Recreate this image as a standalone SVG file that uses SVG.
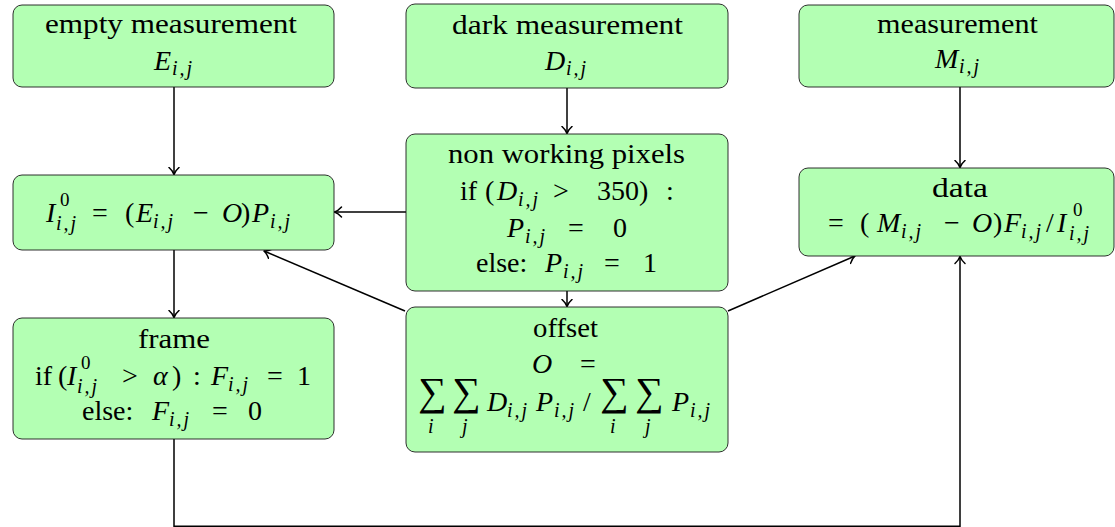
<svg xmlns="http://www.w3.org/2000/svg" width="1115" height="527" viewBox="0 0 1115 527">
<style>
.box{fill:#b3ffb3;stroke:#1a1a1a;stroke-width:0.9}
.t{font-family:"Liberation Serif","Times New Roman",serif;font-size:28px;fill:#000}
.i{font-style:italic}
.s{font-style:italic;font-size:20px;letter-spacing:2px}
.sup{font-size:19px}
.sum{font-size:40px}
.c{fill:none;stroke:#000;stroke-width:1.5}
</style>
<defs>
<marker id="ah" markerUnits="userSpaceOnUse" markerWidth="16" markerHeight="16" refX="0" refY="0" viewBox="-8 -8 16 16" orient="auto">
<path d="M-7,-5 C-4.5,-2.2 -1.5,-0.5 0,0 C-1.5,0.5 -4.5,2.2 -7,5" fill="none" stroke="#000" stroke-width="1.5" stroke-linecap="round" stroke-linejoin="round"/>
</marker>
</defs>
<g id="connectors">
<path class="c" d="M174,87 L174,174.5" marker-end="url(#ah)"/>
<path class="c" d="M567,88 L567,133.5" marker-end="url(#ah)"/>
<path class="c" d="M960,87 L960,167.5" marker-end="url(#ah)"/>
<path class="c" d="M406,212 L334.5,212" marker-end="url(#ah)"/>
<path class="c" d="M567,291 L567,306.5" marker-end="url(#ah)"/>
<path class="c" d="M405,311 L264,251" marker-end="url(#ah)"/>
<path class="c" d="M728,311 L855,256" marker-end="url(#ah)"/>
<path class="c" d="M174,250 L174,317.5" marker-end="url(#ah)"/>
<path class="c" d="M174,439 L174,526.3 L960,526.3 L960,256.5" marker-end="url(#ah)"/>
</g>
<g id="empty">
<rect class="box" x="13" y="5" width="321" height="82" rx="9"/>
<text class="t" x="45" y="33" textLength="252" lengthAdjust="spacingAndGlyphs">empty measurement</text>
<text class="t" y="70"><tspan class="i" x="154">E</tspan><tspan class="s" x="172" y="75">i,j</tspan></text>
</g>
<g id="dark">
<rect class="box" x="406" y="4" width="322" height="84" rx="9"/>
<text class="t" x="452" y="34" textLength="231" lengthAdjust="spacingAndGlyphs">dark measurement</text>
<text class="t" y="70"><tspan class="i" x="545">D</tspan><tspan class="s" x="566" y="75">i,j</tspan></text>
</g>
<g id="measurement">
<rect class="box" x="799" y="5" width="315" height="82" rx="9"/>
<text class="t" x="877" y="33" textLength="161" lengthAdjust="spacingAndGlyphs">measurement</text>
<text class="t" y="68"><tspan class="i" x="935">M</tspan><tspan class="s" x="959" y="73">i,j</tspan></text>
</g>
<g id="intensity">
<rect class="box" x="13" y="175" width="321" height="75" rx="9"/>
<text class="t" y="222"><tspan class="i" x="46">I</tspan><tspan class="sup" x="60" y="206">0</tspan><tspan class="s" x="56" y="230">i,j</tspan><tspan x="92" y="222">=</tspan><tspan x="125">(</tspan><tspan class="i" x="136">E</tspan><tspan class="s" x="153" y="228">i,j</tspan><tspan x="193" y="222">−</tspan><tspan class="i" x="222">O</tspan><tspan x="241">)</tspan><tspan class="i" x="252">P</tspan><tspan class="s" x="270" y="228">i,j</tspan></text>
</g>
<g id="nonworking">
<rect class="box" x="406" y="134" width="322" height="157" rx="9"/>
<text class="t" x="448" y="163" textLength="237" lengthAdjust="spacingAndGlyphs">non working pixels</text>
<text class="t" y="200"><tspan x="460">if</tspan><tspan x="485">(</tspan><tspan class="i" x="497">D</tspan><tspan class="s" x="518" y="206">i,j</tspan><tspan x="553" y="200">&gt;</tspan><tspan x="597">350</tspan><tspan x="639">)</tspan><tspan x="666">:</tspan></text>
<text class="t" y="237"><tspan class="i" x="507">P</tspan><tspan class="s" x="525" y="243">i,j</tspan><tspan x="568" y="237">=</tspan><tspan x="613">0</tspan></text>
<text class="t" y="272"><tspan x="476">else:</tspan><tspan class="i" x="545">P</tspan><tspan class="s" x="563" y="278">i,j</tspan><tspan x="604" y="272">=</tspan><tspan x="643">1</tspan></text>
</g>
<g id="data">
<rect class="box" x="799" y="168" width="315" height="88" rx="9"/>
<text class="t" x="932" y="197" textLength="56" lengthAdjust="spacingAndGlyphs">data</text>
<text class="t" y="232"><tspan x="828">=</tspan><tspan x="860">(</tspan><tspan class="i" x="877">M</tspan><tspan class="s" x="901" y="238">i,j</tspan><tspan x="944" y="232">−</tspan><tspan class="i" x="972">O</tspan><tspan x="993">)</tspan><tspan class="i" x="1004">F</tspan><tspan class="s" x="1021" y="238">i,j</tspan><tspan x="1046" y="232">/</tspan><tspan class="i" x="1057">I</tspan><tspan class="sup" x="1073" y="216">0</tspan><tspan class="s" x="1069" y="240">i,j</tspan></text>
</g>
<g id="frame">
<rect class="box" x="13" y="318" width="321" height="121" rx="9"/>
<text class="t" x="138" y="348" textLength="72" lengthAdjust="spacingAndGlyphs">frame</text>
<text class="t" y="385"><tspan x="35">if</tspan><tspan x="58">(</tspan><tspan class="i" x="67">I</tspan><tspan class="sup" x="81" y="369">0</tspan><tspan class="s" x="77" y="393">i,j</tspan><tspan x="122" y="385">&gt;</tspan><tspan class="i" x="153">α</tspan><tspan x="172">)</tspan><tspan x="193">:</tspan><tspan class="i" x="211">F</tspan><tspan class="s" x="228" y="391">i,j</tspan><tspan x="267" y="385">=</tspan><tspan x="297">1</tspan></text>
<text class="t" y="420"><tspan x="82">else:</tspan><tspan class="i" x="152">F</tspan><tspan class="s" x="169" y="426">i,j</tspan><tspan x="212" y="420">=</tspan><tspan x="248">0</tspan></text>
</g>
<g id="offset">
<rect class="box" x="406" y="307" width="322" height="145" rx="9"/>
<text class="t" x="533" y="337" textLength="65" lengthAdjust="spacingAndGlyphs">offset</text>
<text class="t" y="373"><tspan class="i" x="532">O</tspan><tspan x="580">=</tspan></text>
<text class="t sum" y="405"><tspan x="418">∑</tspan><tspan x="452">∑</tspan><tspan x="600">∑</tspan><tspan x="635">∑</tspan></text>
<text class="t" y="433"><tspan class="s" x="428">i</tspan><tspan class="s" x="462">j</tspan><tspan class="s" x="610">i</tspan><tspan class="s" x="645">j</tspan></text>
<text class="t" y="411"><tspan class="i" x="487">D</tspan><tspan class="s" x="507" y="417">i,j</tspan><tspan class="i" x="536" y="411">P</tspan><tspan class="s" x="554" y="417">i,j</tspan><tspan x="583" y="411">/</tspan><tspan class="i" x="672">P</tspan><tspan class="s" x="690" y="417">i,j</tspan></text>
</g>
</svg>
